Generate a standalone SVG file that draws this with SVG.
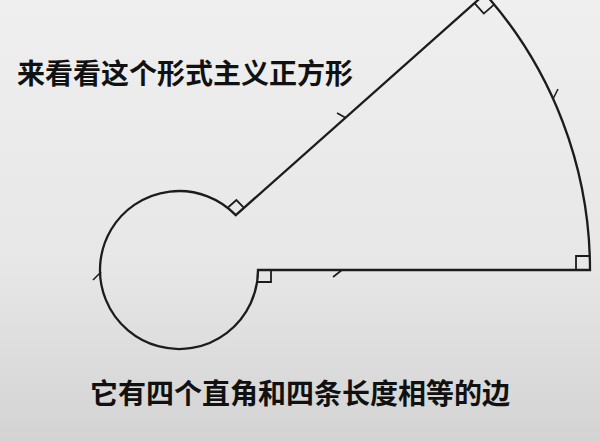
<svg xmlns="http://www.w3.org/2000/svg" width="600" height="441" viewBox="0 0 600 441">
  <defs>
    <linearGradient id="bg" x1="0" y1="0" x2="0" y2="1">
      <stop offset="0" stop-color="#efefef"/>
      <stop offset="0.6" stop-color="#e7e7e7"/>
      <stop offset="1" stop-color="#d3d3d3"/>
    </linearGradient>
    <style>
      .ln { fill: none; stroke: #1c1c1c; stroke-width: 2.3; stroke-linejoin: miter; }
      .mk { fill: none; stroke: #1c1c1c; stroke-width: 1.8; }
      .tk { fill: none; stroke: #1c1c1c; stroke-width: 1.6; }
      .cap { font-family: "Noto Sans CJK SC", "Noto Sans", sans-serif; font-size: 28px; font-weight: bold; fill: #111; }
    </style>
  </defs>
  <rect width="600" height="441" fill="url(#bg)"/>
  <g id="shape">
    <path class="ln" d="M258,270 A79,79 0 1 1 235.8,215.1 L485,-6.2 A416,416 0 0 1 590,270 Z"/>
  </g>
  <g id="right-angles">
    <polyline class="mk" points="244,207.8 236.4,200 228.2,207.2"/>
    <polyline class="mk" points="474.5,3.1 483.8,13.6 494.3,4.3"/>
    <polyline class="mk" points="576,270 576,256 590,256"/>
    <polyline class="mk" points="271,270 271,282 257.2,282"/>
  </g>
  <g id="ticks">
    <line class="tk" x1="93" y1="280" x2="101" y2="272"/>
    <line class="tk" x1="337" y1="113" x2="346" y2="118"/>
    <line class="tk" x1="333" y1="277" x2="342" y2="270"/>
    <line class="tk" x1="553" y1="99" x2="558" y2="89"/>
  </g>
  <g id="captions">
    <text class="cap" x="17" y="84">来看看这个形式主义正方形</text>
    <text class="cap" x="90" y="404">它有四个直角和四条长度相等的边</text>
  </g>
</svg>
